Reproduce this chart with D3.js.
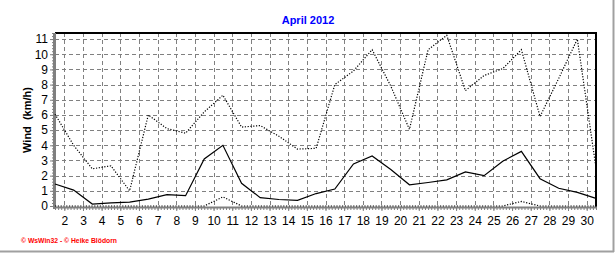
<!DOCTYPE html>
<html>
<head>
<meta charset="utf-8">
<script src="https://cdn.jsdelivr.net/npm/d3@7"></script>
<style>
  body { margin: 0; background: #fff; }
  text { font-family: "Liberation Sans", Arial, sans-serif; }
</style>
</head>
<body>
<div id="chart"></div>
<script>
// daily wind values, April 2012 (km/h)
var days = d3.range(1, 31);
var windMax = [6.05, 4.0, 2.45, 2.65, 1.0, 6.0, 5.1, 4.8, 6.2, 7.3,
               5.2, 5.3, 4.6, 3.75, 3.8, 8.0, 8.9, 10.3, 7.9, 5.05,
               10.3, 11.25, 7.6, 8.6, 9.05, 10.3, 5.9, 8.4, 11.0, 2.5];
var windAvg = [1.45, 1.05, 0.13, 0.2, 0.26, 0.45, 0.75, 0.68, 3.1, 4.0,
               1.5, 0.55, 0.43, 0.37, 0.82, 1.12, 2.77, 3.3, 2.4, 1.4,
               1.55, 1.72, 2.25, 2.0, 2.95, 3.6, 1.8, 1.17, 0.9, 0.5];
var windMin = [0, 0, 0, 0, 0, 0, 0, 0, 0, 0.6,
               0, 0, 0, 0, 0, 0, 0, 0, 0, 0,
               0, 0, 0, 0, 0, 0.3, 0, 0, 0, 0];
var xTicks = d3.range(2, 31);
var yTicks = d3.range(0, 12);

var width = 616, height = 253;
// (window.top is taken, so the plot edges get their own names)
var plotLeft = 55, plotRight = 596, plotTop = 33, plotBottom = 206;

var svg = d3.select('#chart').append('svg')
  .attr('width', width)
  .attr('height', height);

// values are plotted at noon of each day
var x = d3.scaleLinear().domain([1.5, 30.5]).range([plotLeft, plotRight]);
var y = d3.scaleLinear().domain([0, 11.4]).range([plotBottom, plotTop]);

// grid
svg.append('g').selectAll('line')
  .data(xTicks)
  .enter().append('line')
  .attr('x1', d => Math.round(x(d)) + 0.5)
  .attr('x2', d => Math.round(x(d)) + 0.5)
  .attr('y1', plotTop)
  .attr('y2', plotBottom)
  .attr('stroke', '#808080')
  .attr('stroke-dasharray', '4,3');

svg.append('g').selectAll('line')
  .data(yTicks.slice(1))
  .enter().append('line')
  .attr('x1', plotLeft)
  .attr('x2', plotRight)
  .attr('y1', d => Math.round(y(d)) + 0.5)
  .attr('y2', d => Math.round(y(d)) + 0.5)
  .attr('stroke', '#808080')
  .attr('stroke-dasharray', '4,3');

// frame of the plot
svg.append('line')
  .attr('x1', plotLeft).attr('x2', plotRight + 1)
  .attr('y1', plotTop).attr('y2', plotTop)
  .attr('stroke', '#000').attr('stroke-width', 2);
svg.append('line')
  .attr('x1', plotRight).attr('x2', plotRight)
  .attr('y1', plotTop).attr('y2', plotBottom + 2)
  .attr('stroke', '#000').attr('stroke-width', 2);

// left axis
var yMinor = svg.append('g')
  .attr('transform', `translate(${plotLeft - 1},0)`)
  .call(d3.axisLeft(y).tickValues(d3.range(0, 11.41, 0.2)).tickSize(2).tickFormat(''));
var yAxis = svg.append('g')
  .attr('transform', `translate(${plotLeft - 1},0)`)
  .call(d3.axisLeft(y).tickValues(yTicks).tickSize(4).tickPadding(2));
[yMinor, yAxis].forEach(function(g) {
  g.select('.domain').remove();
  g.selectAll('line').attr('stroke', '#808080');
});
yAxis.selectAll('text')
  .style('font-size', '12px')
  .attr('fill', '#000');
svg.append('line')
  .attr('x1', plotLeft - 0.5).attr('x2', plotLeft - 0.5)
  .attr('y1', plotTop).attr('y2', plotBottom + 3)
  .attr('stroke', '#808080').attr('stroke-width', 3);

// bottom axis
var xMinor = svg.append('g')
  .attr('transform', `translate(0,${plotBottom + 1})`)
  .call(d3.axisBottom(x).tickValues(d3.range(1.5, 30.51, 1 / 6)).tickSize(3).tickFormat(''));
var xAxis = svg.append('g')
  .attr('transform', `translate(0,${plotBottom + 1})`)
  .call(d3.axisBottom(x).tickValues(xTicks).tickSize(4).tickPadding(5));
[xMinor, xAxis].forEach(function(g) {
  g.select('.domain').remove();
  g.selectAll('line').attr('stroke', '#808080');
});
xAxis.selectAll('text')
  .style('font-size', '12px')
  .attr('fill', '#000');
svg.append('line')
  .attr('x1', plotLeft - 2).attr('x2', plotRight + 1)
  .attr('y1', plotBottom + 1.5).attr('y2', plotBottom + 1.5)
  .attr('stroke', '#808080').attr('stroke-width', 2);

// series
var line = d3.line()
  .x((d, i) => x(days[i] + 0.5))
  .y(d => y(d));

svg.append('path')
  .datum(windMax)
  .attr('d', line)
  .attr('fill', 'none')
  .attr('stroke', '#000')
  .attr('stroke-width', 1.2)
  .attr('stroke-dasharray', '1.2,1.6');

svg.append('path')
  .datum(windMin)
  .attr('d', line)
  .attr('fill', 'none')
  .attr('stroke', '#000')
  .attr('stroke-width', 1.2)
  .attr('stroke-dasharray', '1.2,1.6');

svg.append('path')
  .datum(windAvg)
  .attr('d', line)
  .attr('fill', 'none')
  .attr('stroke', '#000')
  .attr('stroke-width', 1.2);

// texts
svg.append('text')
  .attr('x', 308)
  .attr('y', 24)
  .attr('text-anchor', 'middle')
  .attr('fill', '#0000ff')
  .style('font-size', '11px')
  .style('font-weight', 'bold')
  .text('April 2012');

svg.append('text')
  .attr('transform', 'translate(31,120) rotate(-90)')
  .attr('text-anchor', 'middle')
  .style('font-size', '11px')
  .style('font-weight', 'bold')
  .style('white-space', 'pre')
  .text('Wind  (km/h)');

svg.append('text')
  .attr('x', 21)
  .attr('y', 243)
  .attr('fill', '#ff0000')
  .attr('textLength', 96)
  .attr('lengthAdjust', 'spacingAndGlyphs')
  .style('font-size', '8px')
  .style('font-weight', 'bold')
  .text('© WsWin32 - © Heike Blödorn');

// outer panel edge
svg.append('line')
  .attr('x1', 613.5).attr('x2', 613.5)
  .attr('y1', 0).attr('y2', 252)
  .attr('stroke', '#a0a0a0').attr('stroke-width', 2);
svg.append('line')
  .attr('x1', 0).attr('x2', 614)
  .attr('y1', 251.5).attr('y2', 251.5)
  .attr('stroke', '#a0a0a0').attr('stroke-width', 2);
</script>
</body>
</html>
